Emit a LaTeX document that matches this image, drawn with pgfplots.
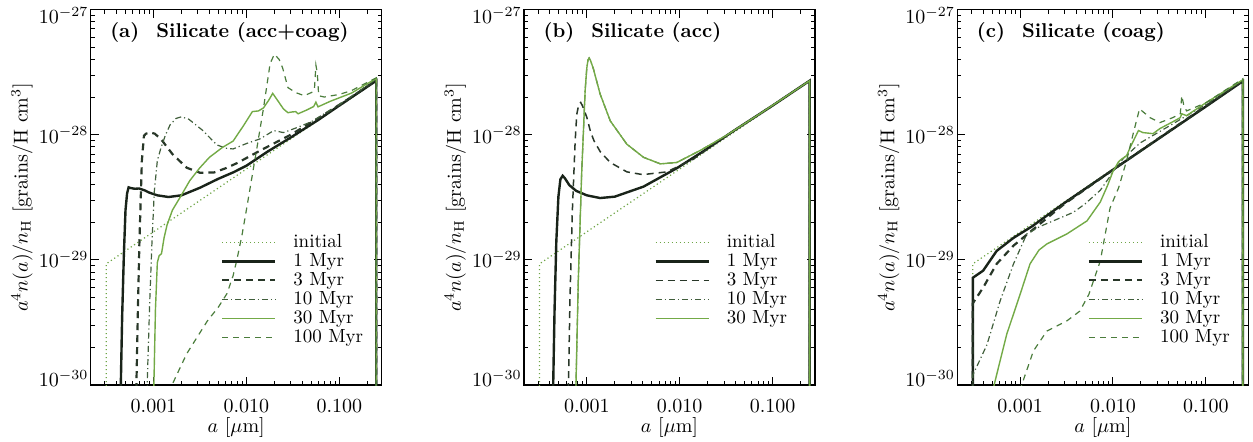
\documentclass[border=0pt]{standalone}
\usepackage{pgfplots}
\pgfplotsset{compat=1.18}
\definecolor{cInit}{RGB}{110,165,70}
\definecolor{cA}{RGB}{25,35,25}
\definecolor{cB}{RGB}{40,55,40}
\definecolor{cC}{RGB}{65,95,60}
\definecolor{cD}{RGB}{115,170,70}
\definecolor{cE}{RGB}{75,125,60}
\pgfplotsset{
 every axis/.append style={
   scale only axis, width=145.5pt, height=187.75pt,
   xmin=2.11e-4, xmax=0.286, ymin=1e-30, ymax=1e-27,
   xtick={0.001,0.01,0.1}, xticklabels={0.001,0.010,0.100},
   minor xtick={3e-4,4e-4,5e-4,6e-4,7e-4,8e-4,9e-4,2e-3,3e-3,4e-3,5e-3,6e-3,7e-3,8e-3,9e-3,0.02,0.03,0.04,0.05,0.06,0.07,0.08,0.09,0.2},
   ytick={1e-30,1e-29,1e-28,1e-27},
   yticklabels={\raisebox{-0.95pt}[0pt][0pt]{$10^{-30}$},\raisebox{-3.95pt}[0pt][0pt]{$10^{-29}$},\raisebox{-4.2pt}[0pt][0pt]{$10^{-28}$},\raisebox{-6.95pt}[0pt][0pt]{$10^{-27}$}},
   minor ytick={2e-30,3e-30,4e-30,5e-30,6e-30,7e-30,8e-30,9e-30,2e-29,3e-29,4e-29,5e-29,6e-29,7e-29,8e-29,9e-29,2e-28,3e-28,4e-28,5e-28,6e-28,7e-28,8e-28,9e-28},
   tick align=inside, major tick length=4pt, minor tick length=2pt,
   every tick/.style={black, line width=0.5pt},
   axis line style={line width=0.8pt},
   tick label style={font=\fontsize{10}{12}\selectfont},
   xticklabel style={yshift=-3.3pt},
   yticklabel style={inner sep=1pt},
   xlabel={$a$ [$\mu$m]}, ylabel={$a^4n(a)/n_{\rm H}$ [grains/H cm$^3$]},
   label style={font=\fontsize{10}{12}\selectfont},
   xlabel style={at={(axis description cs:0.5,0)}, anchor=center, yshift=-21pt},
   ylabel style={at={(axis description cs:-0.236,0.5)}, anchor=center},
   legend style={draw=none, fill=none, at={(axis description cs:0.448,0.404)}, anchor=north west, inner sep=0pt, outer sep=0pt, row sep=0.5pt, column sep=8.5pt, font=\fontsize{9.5}{11}\selectfont, nodes={inner sep=0pt, text height=7pt, text depth=2pt}, cells={anchor=west}},
   no markers,
 },
 legend image code/.code={\draw[#1] (0pt,0pt) -- (26.5pt,0pt);},
 sI/.style={color=cInit, line width=0.6pt, dash pattern=on 0.6pt off 1.4pt},
 sA/.style={color=cA, line width=1.2pt},
 sB/.style={color=cB, line width=1.1pt, dash pattern=on 3.5pt off 2.5pt},
 sBb/.style={color=cB, line width=0.75pt, dash pattern=on 3.5pt off 2.5pt},
 sC/.style={color=cC, line width=0.6pt, dash pattern=on 3pt off 1.5pt on 0.6pt off 1.5pt},
 sD/.style={color=cD, line width=0.7pt},
 sE/.style={color=cE, line width=0.6pt, dash pattern=on 3pt off 2.5pt},
}
\begin{document}
\begin{tikzpicture}
\useasboundingbox (0,0) rectangle (626.5pt,220.5pt);
% ---------------- (a)
\begin{axis}[xmode=log, ymode=log, at={(45.35pt,28pt)}, anchor=south west]
\addplot[sI] coordinates {(3.1e-4,1e-31) (3.1e-4,9.3e-30) (0.25,2.68e-28) (0.25,1e-31)};
\addlegendentry{initial}
\addplot[sA] coordinates {(4.4e-4,1e-31) (4.45e-4,1e-30) (4.6e-4,3.5e-30) (4.8e-4,1.1e-29) (5.0e-4,2.5e-29) (5.2e-4,3.4e-29) (5.4e-4,3.8e-29) (5.7e-4,3.75e-29) (6.3e-4,3.7e-29) (7.0e-4,3.72e-29) (8.0e-4,3.6e-29) (9.0e-4,3.45e-29) (1.1e-3,3.28e-29) (1.45e-3,3.18e-29) (2.0e-3,3.28e-29) (3.16e-3,3.77e-29) (5.0e-3,4.45e-29) (7.2e-3,5.0e-29) (0.01,5.65e-29) (0.017,7.35e-29) (0.03,9.5e-29) (0.06,1.32e-28) (0.1,1.71e-28) (0.25,2.7e-28) (0.25,1e-31)};
\addlegendentry{1 Myr}
\addplot[sB] coordinates {(6.5e-4,1e-31) (6.55e-4,1e-30) (6.8e-4,4e-30) (7.05e-4,1.34e-29) (7.5e-4,6.2e-29) (7.9e-4,9.8e-29) (8.3e-4,1.02e-28) (9.3e-4,1.04e-28) (1.03e-3,1.02e-28) (1.15e-3,9.5e-29) (1.25e-3,8.9e-29) (1.6e-3,7.0e-29) (2.28e-3,5.45e-29) (3.16e-3,4.97e-29) (4.5e-3,5.0e-29) (6.0e-3,5.4e-29) (8.0e-3,5.95e-29) (0.0142,7.5e-29) (0.03,1.0e-28) (0.06,1.36e-28) (0.135,2.0e-28) (0.25,2.72e-28) (0.25,1e-31)};
\addlegendentry{3 Myr}
\addplot[sC] coordinates {(8.5e-4,1e-31) (8.55e-4,1e-30) (9.1e-4,4.5e-30) (9.6e-4,1.3e-29) (1.02e-3,3.5e-29) (1.1e-3,6.2e-29) (1.2e-3,7.8e-29) (1.35e-3,1.0e-28) (1.51e-3,1.2e-28) (1.75e-3,1.35e-28) (2.0e-3,1.39e-28) (2.4e-3,1.33e-28) (3.4e-3,1.08e-28) (4.8e-3,8.3e-29) (6.0e-3,7.8e-29) (7.2e-3,7.7e-29) (0.01,8.5e-29) (0.0142,9.3e-29) (0.0197,1.08e-28) (0.025,1.04e-28) (0.035,1.14e-28) (0.05,1.27e-28) (0.1,1.74e-28) (0.25,2.78e-28) (0.25,1e-31)};
\addlegendentry{10 Myr}
\addplot[sD] coordinates {(1.0e-3,1e-31) (1.01e-3,1e-30) (1.05e-3,4e-30) (1.1e-3,9.5e-30) (1.15e-3,1.08e-29) (1.22e-3,1.12e-29) (1.3e-3,1.5e-29) (1.4e-3,1.9e-29) (1.6e-3,2.5e-29) (1.92e-3,3.13e-29) (2.46e-3,4.3e-29) (3.16e-3,5.45e-29) (4.0e-3,6.6e-29) (5.5e-3,7.9e-29) (7.2e-3,8.9e-29) (9.3e-3,1.18e-28) (0.0116,1.53e-28) (0.0135,1.55e-28) (0.0153,1.64e-28) (0.0175,1.9e-28) (0.0192,2.14e-28) (0.022,1.85e-28) (0.025,1.61e-28) (0.028,1.5e-28) (0.031,1.52e-28) (0.034,1.53e-28) (0.036,1.47e-28) (0.045,1.58e-28) (0.053,1.68e-28) (0.056,1.82e-28) (0.059,1.67e-28) (0.08,1.85e-28) (0.135,2.15e-28) (0.25,2.82e-28) (0.25,1e-31)};
\addlegendentry{30 Myr}
\addplot[sE] coordinates {(1.5e-3,7e-31) (1.58e-3,1e-30) (2.28e-3,1.78e-30) (3.8e-3,3.25e-30) (5.0e-3,4.2e-30) (6.2e-3,5.4e-30) (7.2e-3,7.5e-30) (7.9e-3,1.0e-29) (9.0e-3,1.6e-29) (9.7e-3,2.2e-29) (0.0105,3.1e-29) (0.013,7.9e-29) (0.0153,1.64e-28) (0.018,3.7e-28) (0.020,4.4e-28) (0.0225,4.0e-28) (0.0246,3.4e-28) (0.028,2.38e-28) (0.034,2.17e-28) (0.042,2.05e-28) (0.052,2.2e-28) (0.054,2.3e-28) (0.056,3.6e-28) (0.058,3.1e-28) (0.06,2.05e-28) (0.069,2.0e-28) (0.1,2.1e-28) (0.135,2.25e-28) (0.25,2.85e-28) (0.25,1e-31)};
\addlegendentry{100 Myr}
\node[anchor=base west, inner sep=0pt, font=\bfseries\fontsize{10}{12}\selectfont] at (rel axis cs:0.066,0.925) {(a)\hspace{0.85em}Silicate (acc+coag)};
\end{axis}
% ---------------- (b)
\begin{axis}[xmode=log, ymode=log, at={(262pt,28pt)}, anchor=south west]
\addplot[sI] coordinates {(3.1e-4,1e-31) (3.1e-4,9.3e-30) (0.25,2.68e-28) (0.25,1e-31)};
\addlegendentry{initial}
\addplot[sA] coordinates {(4.3e-4,1e-31) (4.35e-4,1e-30) (4.5e-4,4e-30) (4.7e-4,1.4e-29) (4.95e-4,3.2e-29) (5.2e-4,4.4e-29) (5.5e-4,4.7e-29) (5.8e-4,4.5e-29) (6.5e-4,3.95e-29) (7.7e-4,3.56e-29) (1.0e-3,3.28e-29) (1.39e-3,3.12e-29) (2.0e-3,3.2e-29) (4.08e-3,3.85e-29) (9.3e-3,5.4e-29) (0.0181,7.4e-29) (0.04,1.1e-28) (0.1,1.71e-28) (0.25,2.7e-28) (0.25,1e-31)};
\addlegendentry{1 Myr}
\addplot[sBb] coordinates {(6.3e-4,1e-31) (6.35e-4,1e-30) (6.6e-4,5e-30) (7.0e-4,2.5e-29) (7.5e-4,8.9e-29) (7.8e-4,1.45e-28) (8.2e-4,1.75e-28) (8.6e-4,1.81e-28) (9.0e-4,1.7e-28) (1.0e-3,1.38e-28) (1.1e-3,1.05e-28) (1.2e-3,8.9e-29) (1.4e-3,7.3e-29) (1.79e-3,6.0e-29) (2.7e-3,5.05e-29) (4.0e-3,4.8e-29) (7.3e-3,5.05e-29) (0.0141,6.4e-29) (0.0274,9.1e-29) (0.06,1.34e-28) (0.25,2.7e-28) (0.25,1e-31)};
\addlegendentry{3 Myr}
\addplot[sC] coordinates {(7.6e-4,1e-31) (7.65e-4,1e-30) (8.1e-4,6.8e-30) (8.8e-4,4.8e-29) (9.6e-4,2.25e-28) (1.0e-3,3.4e-28) (1.03e-3,3.95e-28) (1.06e-3,4.1e-28) (1.1e-3,3.9e-28) (1.18e-3,3.35e-28) (1.39e-3,2.12e-28) (1.79e-3,1.29e-28) (2.7e-3,8.4e-29) (4.08e-3,6.6e-29) (6.2e-3,5.85e-29) (9.3e-3,6.0e-29) (0.0167,7.5e-29) (0.032,9.9e-29) (0.074,1.48e-28) (0.25,2.7e-28) (0.25,1e-31)};
\addlegendentry{10 Myr}
\addplot[sD] coordinates {(7.6e-4,1e-31) (7.65e-4,1e-30) (8.1e-4,6.8e-30) (8.8e-4,4.8e-29) (9.6e-4,2.25e-28) (1.0e-3,3.4e-28) (1.03e-3,3.95e-28) (1.06e-3,4.1e-28) (1.1e-3,3.9e-28) (1.18e-3,3.35e-28) (1.39e-3,2.12e-28) (1.79e-3,1.29e-28) (2.7e-3,8.4e-29) (4.08e-3,6.6e-29) (6.2e-3,5.85e-29) (9.3e-3,6.0e-29) (0.0167,7.5e-29) (0.032,9.9e-29) (0.074,1.48e-28) (0.25,2.7e-28) (0.25,1e-31)};
\addlegendentry{30 Myr}
\node[anchor=base west, inner sep=0pt, font=\bfseries\fontsize{10}{12}\selectfont] at (rel axis cs:0.066,0.925) {(b)\hspace{0.85em}Silicate (acc)};
\end{axis}
% ---------------- (c)
\begin{axis}[xmode=log, ymode=log, at={(478.65pt,28pt)}, anchor=south west]
\addplot[sI] coordinates {(3.1e-4,1e-31) (3.1e-4,9.3e-30) (0.25,2.68e-28) (0.25,1e-31)};
\addlegendentry{initial}
\addplot[sA] coordinates {(3.1e-4,1e-31) (3.1e-4,7.2e-30) (4.0e-4,8.2e-30) (5.6e-4,1.18e-29) (8.5e-4,1.5e-29) (1.34e-3,1.85e-29) (3e-3,2.85e-29) (0.01,5.25e-29) (0.1,1.68e-28) (0.25,2.68e-28) (0.25,1e-31)};
\addlegendentry{1 Myr}
\addplot[sB] coordinates {(3.1e-4,1e-31) (3.1e-4,4.5e-30) (4.0e-4,6.0e-30) (5.6e-4,9.3e-30) (8.5e-4,1.3e-29) (1.38e-3,1.75e-29) (3e-3,2.8e-29) (0.01,5.25e-29) (0.1,1.7e-28) (0.25,2.7e-28) (0.25,1e-31)};
\addlegendentry{3 Myr}
\addplot[sC] coordinates {(3.1e-4,1e-31) (3.1e-4,1.2e-30) (4.4e-4,2.1e-30) (6.1e-4,4.7e-30) (8.5e-4,9.3e-30) (1.18e-3,1.61e-29) (1.64e-3,1.85e-29) (3.75e-3,2.4e-29) (5.0e-3,2.8e-29) (7.3e-3,3.6e-29) (9.2e-3,4.6e-29) (0.01,5.1e-29) (0.013,6.5e-29) (0.0196,8.6e-29) (0.044,1.22e-28) (0.1,1.75e-28) (0.25,2.72e-28) (0.25,1e-31)};
\addlegendentry{10 Myr}
\addplot[sD] coordinates {(4.6e-4,5e-31) (5.25e-4,1e-30) (7.2e-4,2.56e-30) (1.0e-3,5.3e-30) (1.28e-3,9.3e-30) (1.6e-3,1.2e-29) (1.94e-3,1.34e-29) (3.18e-3,1.61e-29) (5.25e-3,2.05e-29) (7.3e-3,2.9e-29) (8.7e-3,3.9e-29) (0.01,5.1e-29) (0.0115,6.1e-29) (0.0124,6.4e-29) (0.014,6.8e-29) (0.0153,7.9e-29) (0.0188,1.08e-28) (0.021,1.04e-28) (0.027,1.02e-28) (0.032,1.12e-28) (0.045,1.28e-28) (0.053,1.37e-28) (0.055,1.47e-28) (0.062,1.42e-28) (0.1,1.8e-28) (0.25,2.75e-28) (0.25,1e-31)};
\addlegendentry{30 Myr}
\addplot[sE] coordinates {(9.5e-4,6e-31) (1.04e-3,1e-30) (1.39e-3,1.87e-30) (1.94e-3,2.7e-30) (3.18e-3,3.25e-30) (4.4e-3,3.9e-30) (5.5e-3,5.3e-30) (7.3e-3,9.8e-30) (9.3e-3,2.6e-29) (0.0115,3.77e-29) (0.014,6.2e-29) (0.0165,1.02e-28) (0.0193,1.61e-28) (0.025,1.37e-28) (0.032,1.25e-28) (0.044,1.37e-28) (0.053,1.47e-28) (0.055,2.05e-28) (0.058,1.7e-28) (0.062,1.55e-28) (0.1,1.8e-28) (0.25,2.8e-28) (0.25,1e-31)};
\addlegendentry{100 Myr}
\node[anchor=base west, inner sep=0pt, font=\bfseries\fontsize{10}{12}\selectfont] at (rel axis cs:0.066,0.925) {(c)\hspace{0.85em}Silicate (coag)};
\end{axis}
\end{tikzpicture}
\end{document}
